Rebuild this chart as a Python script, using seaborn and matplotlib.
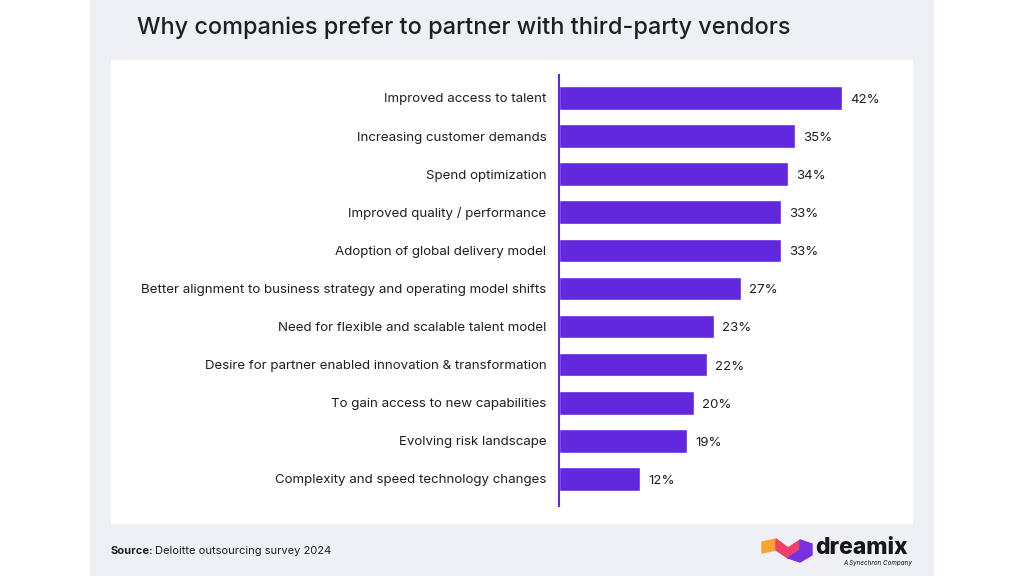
import numpy as np
import pandas as pd
import matplotlib.pyplot as plt
import seaborn as sns
from matplotlib.patches import Rectangle, Polygon

# 数据
reasons = [
    "Improved access to talent",
    "Increasing customer demands",
    "Spend optimization",
    "Improved quality / performance",
    "Adoption of global delivery model",
    "Better alignment to business strategy and operating model shifts",
    "Need for flexible and scalable talent model",
    "Desire for partner enabled innovation & transformation",
    "To gain access to new capabilities",
    "Evolving risk landscape",
    "Complexity and speed technology changes",
]
shares = [42, 35, 34, 33, 33, 27, 23, 22, 20, 19, 12]

title = "Why companies prefer to partner with third-party vendors"
source_label = "Source:"
source_text = "Deloitte outsourcing survey 2024"

BAR_COLOR = "#6128de"
TEXT_COLOR = "#1e1e28"

sns.set_theme(style="white")
plt.rcParams['font.family'] = ['Inter', 'DejaVu Sans']

df = pd.DataFrame({"reason": reasons, "share": shares})

fig = plt.figure(figsize=(10.24, 5.76), dpi=100)
fig.patch.set_facecolor("white")

# 背景面板
fig.add_artist(Rectangle((90 / 1024, 0), (933 - 90) / 1024, 1,
                         transform=fig.transFigure, color="#eef0f5", zorder=0))
fig.add_artist(Rectangle((111 / 1024, 1 - 523 / 576), (912 - 111) / 1024, (523 - 60) / 576,
                         transform=fig.transFigure, color="white", zorder=0))

ax = fig.add_axes([559 / 1024, 1 - 505.6 / 576, 337 / 1024, 430.5 / 576])
ax.set_facecolor("none")
sns.barplot(data=df, x="share", y="reason", color=BAR_COLOR, saturation=1,
            width=0.62, ax=ax)
ax.set_xlim(0, 50)
ax.set_ylim(10.7, -0.6)

for i, v in enumerate(shares):
    ax.text(v + 1.2, i + 0.05, f"{v}%", va="center", ha="left",
            fontsize=9.5, color=TEXT_COLOR)

ax.set_xlabel("")
ax.set_ylabel("")
ax.set_xticks([])
ax.tick_params(axis="y", length=0, pad=9, labelsize=9.6, labelcolor=TEXT_COLOR)
for s in ["top", "right", "bottom"]:
    ax.spines[s].set_visible(False)
ax.spines["left"].set_color(BAR_COLOR)
ax.spines["left"].set_linewidth(1.5)

fig.text(137 / 1024, 1 - 28 / 576, title, fontsize=16.9, color=TEXT_COLOR,
         va="center", ha="left", fontweight="medium")

fig.text(111 / 1024, 1 - 551 / 576, source_label, fontsize=8, fontweight="bold",
         color=TEXT_COLOR, va="center", ha="left")
fig.text(155 / 1024, 1 - 551 / 576, source_text, fontsize=8,
         color=TEXT_COLOR, va="center", ha="left")

# 标志
def fpt(x, y):
    return (x / 1024, 1 - y / 576)

fig.add_artist(Polygon([fpt(762, 542), fpt(776, 539), fpt(788, 548), fpt(788, 558),
                        fpt(776, 550), fpt(762, 553)], closed=True,
                       transform=fig.transFigure, color="#f7a531", zorder=2))
fig.add_artist(Polygon([fpt(776, 550), fpt(788, 558), fpt(800, 550), fpt(800, 540),
                        fpt(788, 548), fpt(776, 539)], closed=True,
                       transform=fig.transFigure, color="#ef3f6b", zorder=2))
fig.add_artist(Polygon([fpt(788, 558), fpt(800, 562), fpt(812, 555), fpt(812, 544),
                        fpt(800, 540), fpt(800, 550)], closed=True,
                       transform=fig.transFigure, color="#7a2fe0", zorder=2))
fig.text(815 / 1024, 1 - 548 / 576, "dreamix", fontsize=16.5, fontweight="heavy",
         color="#15151c", va="center", ha="left")
fig.text(912 / 1024, 1 - 563 / 576, "A Synechron Company", fontsize=4.5,
         color="#15151c", va="center", ha="right", style="italic")

fig.savefig("out.png", dpi=100)
